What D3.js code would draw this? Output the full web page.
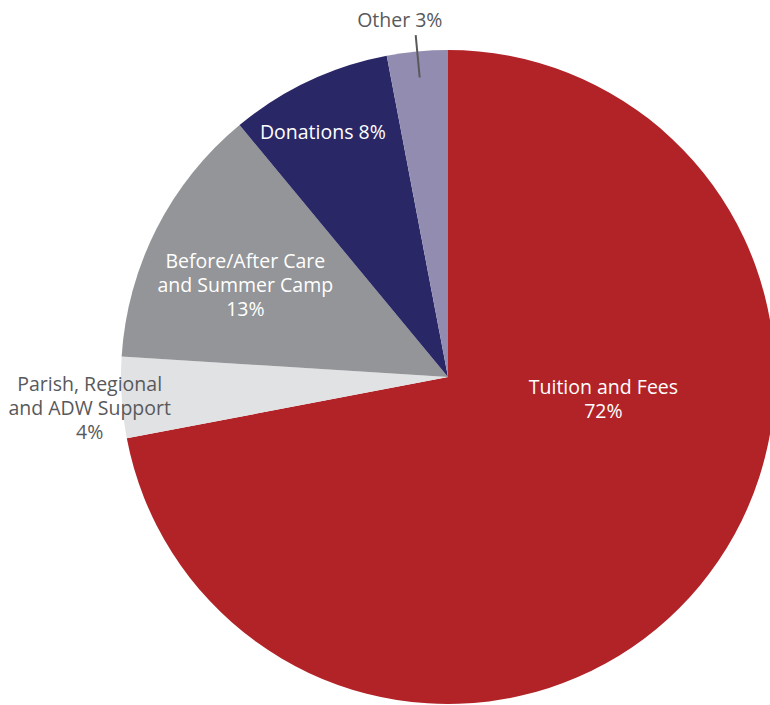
<!DOCTYPE html>
<html>
<head>
<meta charset="utf-8">
<script src="https://cdn.jsdelivr.net/npm/d3@7"></script>
<style>
  html, body { margin: 0; padding: 0; background: #fff; overflow: hidden; }
  svg { display: block; }
</style>
</head>
<body>
<svg id="chart" width="770" height="705"></svg>
<script>
// data
const categories = ["Tuition and Fees", "Parish, Regional and ADW Support", "Before/After Care and Summer Camp", "Donations", "Other"];
const shares = [72, 4, 13, 8, 3];
const labelLines = [
    ["Tuition and Fees", "72%"],
    ["Parish, Regional", "and ADW Support", "4%"],
    ["Before/After Care", "and Summer Camp", "13%"],
    ["Donations 8%"],
    ["Other 3%"]
];

// layout
const width = 770, height = 705;
const cx = 448, cy = 377, radius = 327;
const colors = ["#b22328", "#e1e2e4", "#939598", "#2a2766", "#928db0"];
const textColors = ["#fff", "#58595b", "#fff", "#fff", "#58595b"];
// label placement: [angle in degrees clockwise from top, radius fraction]
const labelPolar = [[98, 0.48], [265, 1.1], [294.3, 0.68], [332.9, 0.84], [352.3, 1.1]];
const lineH = 24;

const svg = d3.select("#chart");
const g = svg.append("g").attr("transform", `translate(${cx},${cy})`);

const pie = d3.pie().sort(null).value(d => d);
const arcs = pie(shares);
const arc = d3.arc().innerRadius(0).outerRadius(radius);

g.selectAll("path.slice")
    .data(arcs)
    .enter()
    .append("path")
    .attr("class", "slice")
    .attr("d", arc)
    .attr("fill", (d, i) => colors[i]);

// leader line for Other
const other = arcs[4];
const midA = (other.startAngle + other.endAngle) / 2;
g.append("line")
    .attr("x1", Math.sin(midA) * radius * 0.92)
    .attr("y1", -Math.cos(midA) * radius * 0.92)
    .attr("x2", Math.sin(midA) * radius * 1.05)
    .attr("y2", -Math.cos(midA) * radius * 1.05)
    .attr("stroke", "#58595b")
    .attr("stroke-width", 2);

// labels
labelLines.forEach((lines, i) => {
    const a = labelPolar[i][0] * Math.PI / 180;
    const r = labelPolar[i][1] * radius;
    const x = Math.sin(a) * r;
    const y = -Math.cos(a) * r;
    const t = g.append("text")
        .attr("text-anchor", "middle")
        .attr("font-family", "'Open Sans', sans-serif")
        .attr("font-size", 19.5)
        .attr("fill", textColors[i]);
    lines.forEach((s, j) => {
        t.append("tspan")
            .attr("x", x)
            .attr("y", y + (j - (lines.length - 1) / 2) * lineH)
            .attr("dy", "0.35em")
            .text(s);
    });
});
</script>
</body>
</html>
